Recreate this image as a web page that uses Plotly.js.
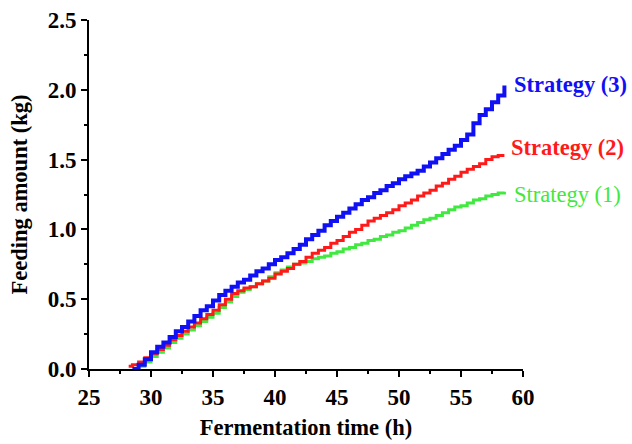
<!DOCTYPE html>
<html>
<head>
<meta charset="utf-8">
<script src="https://cdn.plot.ly/plotly-3.0.1.min.js"></script>
<style>
html,body{margin:0;padding:0;background:#fff;}
#chart{width:632px;height:444px;}
</style>
</head>
<body>
<div id="chart"></div>
<script>
// Strategy (3) - blue
var timeS3 = [28.5,29.0,29.5,30.0,30.5,31.0,31.5,32.0,32.5,33.0,33.5,34.0,34.5,35.0,35.5,36.0,36.5,37.0,37.5,38.0,38.5,39.0,39.5,40.0,40.5,41.0,41.5,42.0,42.5,43.0,43.5,44.0,44.5,45.0,45.5,46.0,46.5,47.0,47.5,48.0,48.5,49.0,49.5,50.0,50.5,51.0,51.5,52.0,52.5,53.0,53.5,54.0,54.5,55.0,55.5,56.0,56.5,57.0,57.5,58.0,58.5];
var feedS3 = [0.00,0.03,0.07,0.12,0.16,0.19,0.23,0.27,0.30,0.34,0.38,0.42,0.45,0.49,0.53,0.56,0.59,0.62,0.64,0.67,0.70,0.72,0.75,0.78,0.80,0.83,0.86,0.89,0.93,0.96,0.99,1.03,1.06,1.09,1.12,1.15,1.18,1.21,1.23,1.26,1.28,1.31,1.33,1.36,1.38,1.40,1.42,1.45,1.48,1.51,1.54,1.57,1.60,1.64,1.68,1.76,1.82,1.86,1.91,1.96,2.03];

// Strategy (2) - red
var timeS2 = [28.2,28.5,29.0,29.5,30.0,30.5,31.0,31.5,32.0,32.5,33.0,33.5,34.0,34.5,35.0,35.5,36.0,36.5,37.0,37.5,38.0,38.5,39.0,39.5,40.0,40.5,41.0,41.5,42.0,42.5,43.0,43.5,44.0,44.5,45.0,45.5,46.0,46.5,47.0,47.5,48.0,48.5,49.0,49.5,50.0,50.5,51.0,51.5,52.0,52.5,53.0,53.5,54.0,54.5,55.0,55.5,56.0,56.5,57.0,57.5,58.0,58.5];
var feedS2 = [0.02,0.03,0.05,0.08,0.11,0.14,0.17,0.21,0.24,0.27,0.30,0.33,0.36,0.39,0.42,0.46,0.50,0.54,0.56,0.58,0.59,0.61,0.63,0.65,0.68,0.70,0.72,0.75,0.77,0.80,0.83,0.85,0.87,0.90,0.92,0.95,0.98,1.00,1.03,1.06,1.08,1.10,1.12,1.14,1.17,1.19,1.21,1.24,1.26,1.28,1.31,1.33,1.36,1.38,1.41,1.43,1.45,1.47,1.50,1.52,1.53,1.53];

// Strategy (1) - green
var timeS1 = [28.7,29.0,29.5,30.0,30.5,31.0,31.5,32.0,32.5,33.0,33.5,34.0,34.5,35.0,35.5,36.0,36.5,37.0,37.5,38.0,38.5,39.0,39.5,40.0,40.5,41.0,41.5,42.0,42.5,43.0,43.5,44.0,44.5,45.0,45.5,46.0,46.5,47.0,47.5,48.0,48.5,49.0,49.5,50.0,50.5,51.0,51.5,52.0,52.5,53.0,53.5,54.0,54.5,55.0,55.5,56.0,56.5,57.0,57.5,58.0,58.5];
var feedS1 = [0.00,0.02,0.05,0.09,0.12,0.15,0.19,0.22,0.25,0.28,0.31,0.34,0.37,0.40,0.44,0.48,0.52,0.55,0.57,0.59,0.61,0.63,0.66,0.69,0.71,0.73,0.75,0.76,0.77,0.79,0.80,0.81,0.83,0.84,0.86,0.87,0.89,0.90,0.92,0.93,0.95,0.96,0.98,0.99,1.01,1.03,1.05,1.07,1.08,1.10,1.12,1.14,1.16,1.17,1.19,1.21,1.22,1.24,1.25,1.26,1.27];

var seriesNames = ['Strategy (1)','Strategy (2)','Strategy (3)'];
var xTickVals = [25,30,35,40,45,50,55,60];
var yTickVals = [0.0,0.5,1.0,1.5,2.0,2.5];
var yTickText = ['0.0','0.5','1.0','1.5','2.0','2.5'];

var cGreen = '#40e840', cRed = '#ff1a1a', cBlue = '#1010f5';
var serif = '"Liberation Serif","Times New Roman",serif';

var traces = [
  {x: timeS1, y: feedS1, mode:'lines', line:{color:cGreen, width:3, shape:'hv'}, name:seriesNames[0]},
  {x: timeS2, y: feedS2, mode:'lines', line:{color:cRed, width:3, shape:'hv'}, name:seriesNames[1]},
  {x: timeS3, y: feedS3, mode:'lines', line:{color:cBlue, width:4, shape:'hv'}, name:seriesNames[2]}
];

var axisCommon = {
  showgrid:false, zeroline:false, showline:true, linecolor:'#000', linewidth:2,
  ticks:'outside', ticklen:6, tickwidth:2, tickcolor:'#000',
  tickfont:{family:serif, size:23, color:'#000', weight:'bold'}
};

var layout = {
  width:632, height:444,
  margin:{l:89, r:109, t:20, b:75},
  paper_bgcolor:'#fff', plot_bgcolor:'#fff',
  showlegend:false,
  font:{family:serif, color:'#000'},
  xaxis: Object.assign({}, axisCommon, {
    range:[25,60], tickvals:xTickVals,
    minor:{ticks:'outside', ticklen:3, tickwidth:2, tickcolor:'#000', dtick:2.5, tick0:25},
    title:{text:'<b>Fermentation time (h)</b>', font:{family:serif, size:22.5, color:'#000'}, standoff:11}
  }),
  yaxis: Object.assign({}, axisCommon, {
    range:[0,2.5], tickvals:yTickVals, ticktext:yTickText,
    minor:{ticks:'outside', ticklen:3, tickwidth:2, tickcolor:'#000', dtick:0.25, tick0:0},
    title:{text:'<b>Feeding amount (kg)</b>', font:{family:serif, size:22.5, color:'#000'}, standoff:14}
  }),
  annotations:[
    {x:59.1, y:feedS3[feedS3.length-1]+0.01, xref:'x', yref:'y', xanchor:'left', yanchor:'middle', showarrow:false,
     text:'<b>'+seriesNames[2]+'</b>', font:{family:serif, size:22.5, color:cBlue}},
    {x:58.9, y:feedS2[feedS2.length-1]+0.06, xref:'x', yref:'y', xanchor:'left', yanchor:'middle', showarrow:false,
     text:'<b>'+seriesNames[1]+'</b>', font:{family:serif, size:22.5, color:cRed}},
    {x:59.1, y:feedS1[feedS1.length-1]-0.02, xref:'x', yref:'y', xanchor:'left', yanchor:'middle', showarrow:false,
     text:seriesNames[0], font:{family:serif, size:22.5, color:cGreen}}
  ]
};

Plotly.newPlot('chart', traces, layout, {staticPlot:true, displayModeBar:false});
</script>
</body>
</html>
